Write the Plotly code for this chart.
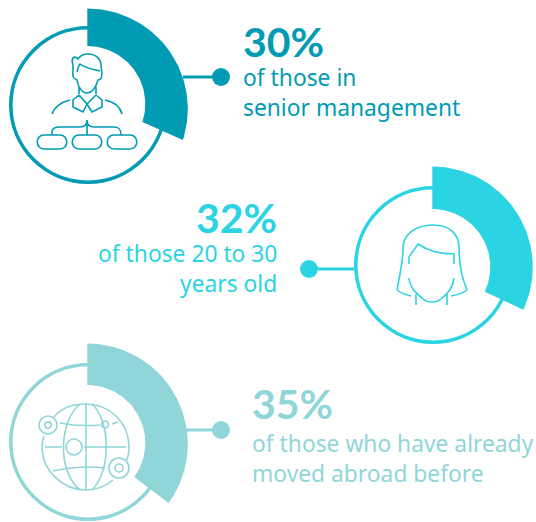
import numpy as np
import plotly.graph_objects as go

W, H = 536, 522
# Data
shares = [30, 32, 35]
share_labels = ["30%", "32%", "35%"]
captions = [["of those in", "senior management"],
            ["of those 20 to 30", "years old"],
            ["of those who have already", "moved abroad before"]]
colors = ["#019BB3", "#2BD4E2", "#90D6D9"]

# Layout (pixels)
ring_c = [(88, 105), (433, 265), (88, 442)]
ring_r = 79
outer_c = [(87.3, 109), (432.3, 267), (87.3, 444)]
inner_c = [(87.3, 104), (432.3, 267), (87.3, 443)]
arc_R = 100.5
arc_r = 58
HEAD_FONT = "Lato"
BODY_FONT = "Noto Sans"
ICON_W = 1.6

fig = go.Figure()

def sector(share, oc, ic):
    t = np.radians(np.linspace(0, 3.6*share, 80))
    xo = oc[0] + arc_R*np.sin(t); yo = oc[1] - arc_R*np.cos(t)
    xi = ic[0] + arc_r*np.sin(t[::-1]); yi = ic[1] - arc_r*np.cos(t[::-1])
    return np.r_[xo, xi, xo[0]], np.r_[yo, yi, yo[0]]

for i, v in enumerate(shares):
    x, y = sector(v, outer_c[i], inner_c[i])
    fig.add_trace(go.Scatter(x=x, y=y, mode="lines", fill="toself", fillcolor=colors[i],
                             line=dict(width=0, color=colors[i]), hoverinfo="skip", showlegend=False))

shapes = []
def line_path(d, color, w=ICON_W):
    shapes.append(dict(type="path", path=d, line=dict(color=color, width=w),
                       fillcolor="rgba(0,0,0,0)", xref="x", yref="y"))
def dot(cx, cy, r, color):
    shapes.append(dict(type="circle", x0=cx-r, x1=cx+r, y0=cy-r, y1=cy+r, xref="x", yref="y",
                       fillcolor=color, line=dict(width=0)))
def circ(cx, cy, r, color, w=ICON_W):
    shapes.append(dict(type="circle", x0=cx-r, x1=cx+r, y0=cy-r, y1=cy+r, xref="x", yref="y",
                       fillcolor="rgba(0,0,0,0)", line=dict(width=w, color=color)))
def seg(x0, y0, x1, y1, color, w=3):
    shapes.append(dict(type="line", x0=x0, x1=x1, y0=y0, y1=y1, xref="x", yref="y",
                       line=dict(width=w, color=color)))
def pill(x0, x1, y0, y1, color, w=ICON_W):
    r = (y1-y0)/2
    line_path(f"M{x0+r},{y0} L{x1-r},{y0} C{x1+2},{y0} {x1+2},{y1} {x1-r},{y1} L{x0+r},{y1} C{x0-2},{y1} {x0-2},{y0} {x0+r},{y0} Z", color, w)

# rings
for i in range(3):
    circ(ring_c[i][0], ring_c[i][1], ring_r-1.8, colors[i], 3.6)

# connectors
seg(183, 77, 221, 77, colors[0]); dot(221, 77, 9, colors[0])
seg(309, 269, 354, 269, colors[1]); dot(309, 269, 9, colors[1])
seg(186, 430, 221, 430, colors[2]); dot(221, 430, 9, colors[2])

# manager icon
c = colors[0]
line_path("M73,65 C71,60 73,54 78,59 C80,56 82,54 88,54 C96,54 101,59 101,66 L102,73 C102,78 100,80 98,80 C96,87 92,93 87,93 C82,93 78,87 77,80 C74,79 72,76 73,71 Z", c)
line_path("M77,72 C78,68 79,65 80,64 C85,68 92,69 100,71", c)
line_path("M79,87 L79,94 M96,87 L96,94", c)
line_path("M70,100 C62,102 55,106 52,114", c)
line_path("M105,100 C114,102 120,106 122,114", c)
line_path("M79,95 L73,100 L73,107 L83,112 L87,104 L79,95 M96,95 L102,100 L102,107 L92,112 L87,104 L96,95", c)
line_path("M87,120 L87,135 M52,135 L52,132 C52,128 56,127 60,127 L80,127 C84,127 87,125 87,120 C87,125 90,127 94,127 L114,127 C118,127 121,128 121,135", c)
pill(37, 67, 135, 149, c); pill(72, 102, 135, 149, c); pill(107, 137, 135, 149, c)

# woman icon
c = colors[1]
line_path("M397,290 C401,268 403,262 403,248 C403,235 415,225 433,225 C451,225 459,235 459,248 C459,262 462,278 467,290", c)
line_path("M397,290 C402,294 407,295 411,296 M467,290 C462,294 457,295 451,296", c)
line_path("M409,264 L409,257 L418,244 C428,251 440,254 454,254 L454,264", c)
line_path("M409,278 C410,288 416,293 423,299 C428,303 436,303 441,299 C448,293 453,288 454,278", c)
line_path("M416,294 L416,305 M447,294 L447,305", c)

# globe icon
c = colors[2]
line_path("M54,417 C62,407 73,404 86,404 C110,404 129,423 129,447 C129,454 128,458 126,461", c)
line_path("M113,480 C105,487 96,490 86,490 C62,490 42,470 42,447 C42,443 43,439 44,436", c)
line_path("M86,404 L86,490", c)
line_path("M80,404 C60,420 56,470 80,490 M92,404 C110,420 112,470 92,490", c)
line_path("M60,423 C75,426 88,426 100,425 M112,424 L118,422", c)
line_path("M45,447 L62,447 M84,447 L126,447", c)
line_path("M53,471 C72,467 90,466 105,468", c)
circ(48, 425, 9, c); circ(48, 425, 3.2, c)
circ(105, 424.5, 3.5, c)
circ(74, 447, 8, c)
circ(119, 468, 10, c); circ(119, 468, 4, c)

fig.update_layout(width=W, height=H, margin=dict(l=0, r=0, t=0, b=0),
                  paper_bgcolor="white", plot_bgcolor="white", shapes=shapes,
                  xaxis=dict(range=[0, W], visible=False, fixedrange=True),
                  yaxis=dict(range=[H, 0], visible=False, fixedrange=True))

# text
def txt(x, y, s, size, color, anchor, family, bold=False):
    fig.add_annotation(x=x, y=y, xref="x", yref="y", text=f"<b>{s}</b>" if bold else s, showarrow=False,
                       xanchor=anchor, yanchor="middle", borderpad=0, borderwidth=0,
                       font=dict(family=family, size=size, color=color))

pos = [(243, 41, 77, 107, "left"), (277, 217, 253, 283, "right"), (252, 403, 443, 473, "left")]
for i, p in enumerate(pos):
    txt(p[0], p[1], share_labels[i], 41, colors[i], p[4], HEAD_FONT, True)
    txt(p[0], p[2], captions[i][0], 22.8, colors[i], p[4], BODY_FONT)
    txt(p[0], p[3], captions[i][1], 22.8, colors[i], p[4], BODY_FONT)

fig.write_html("out.html", config=dict(displayModeBar=False), post_script="document.body.style.margin='0';")
